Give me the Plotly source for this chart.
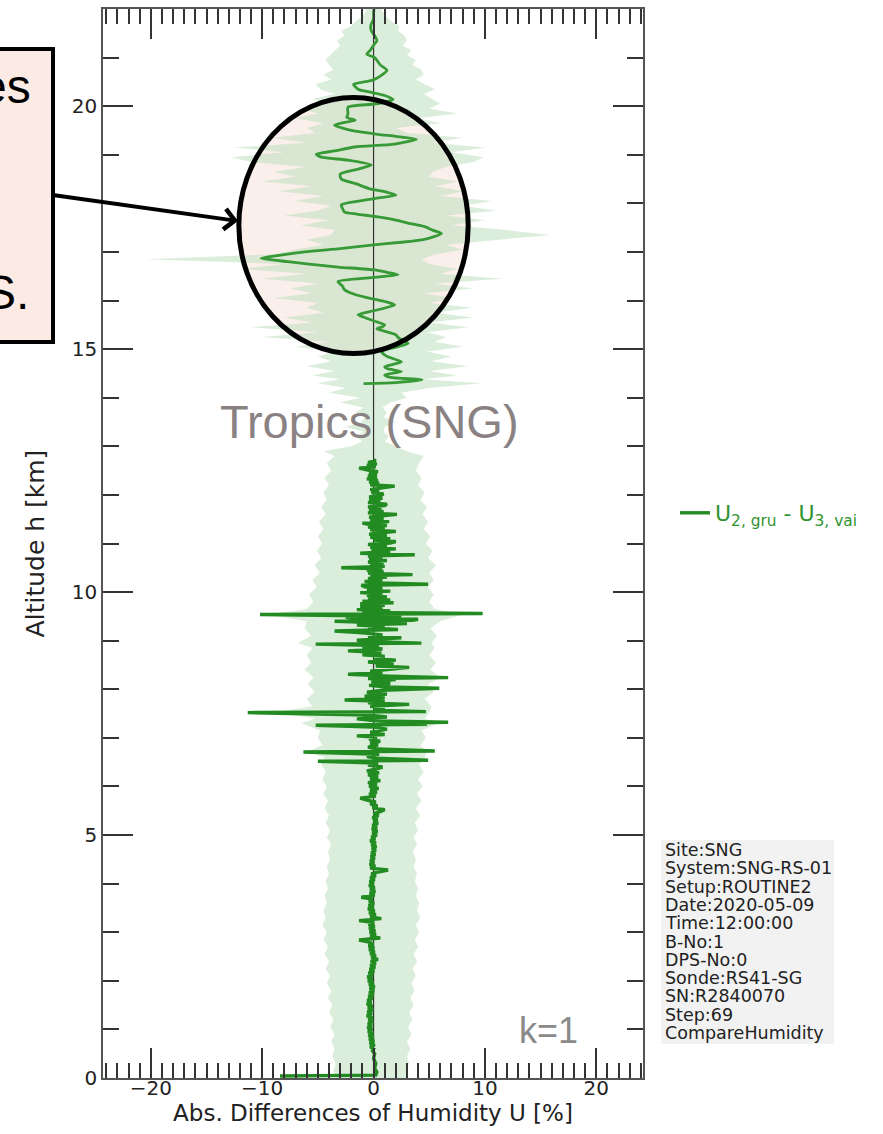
import plotly.graph_objects as go

# ---------------- data ----------------
# lower profile (surface .. 12.7 km): (altitude [km], difference [%])
low_profile = [
    (0.04, -8.4), (0.06, 0.2), (0.12, 0.3), (0.20, 0.1), (0.30, 0.2), (0.40, 0.0), (0.50, 0.1), (0.56, -0.1),
    (0.60, 0.0), (0.64, -0.3), (0.68, 0.1), (0.72, -0.35), (0.76, 0.05), (0.80, -0.4), (0.84, 0.0), (0.88, -0.45),
    (0.92, -0.05), (0.96, -0.5), (1.00, -0.1), (1.04, -0.55), (1.08, -0.15), (1.12, -0.5), (1.16, -0.05),
    (1.20, -0.45), (1.24, -0.1), (1.28, -0.6), (1.32, -0.15), (1.36, -0.55), (1.40, -0.05), (1.44, -0.5),
    (1.48, -0.1), (1.52, -0.6), (1.56, -0.2), (1.60, -0.55), (1.64, -0.1), (1.68, -0.45), (1.72, 0.0),
    (1.76, -0.4), (1.80, 0.05), (1.84, -0.35), (1.88, 0.1), (1.92, -0.4), (1.96, 0.0), (2.00, -0.5),
    (2.04, -0.1), (2.08, -0.55), (2.12, -0.05), (2.16, -0.45), (2.20, 0.05), (2.24, -0.35), (2.28, 0.15),
    (2.32, -0.3), (2.36, 0.2), (2.40, -0.25), (2.44, 0.4), (2.48, -0.2), (2.52, 0.2), (2.56, -0.3), (2.60, 0.1),
    (2.64, -0.4), (2.68, 0.05), (2.72, -0.45), (2.76, 0.0), (2.80, -0.5), (2.84, -1.3), (2.88, 0.6),
    (2.92, -0.3), (2.96, 0.2), (3.00, -0.35), (3.04, 0.15), (3.08, -0.4), (3.12, 0.1), (3.16, -0.45),
    (3.20, 0.05), (3.24, -1.3), (3.28, 0.7), (3.32, -0.3), (3.36, 0.2), (3.40, -0.4), (3.44, 0.1), (3.48, -0.5),
    (3.52, 0.0), (3.56, -0.45), (3.60, 0.05), (3.64, -0.4), (3.68, -0.1), (3.72, -1.1), (3.76, 0.1),
    (3.80, -0.35), (3.84, 0.15), (3.88, -0.3), (3.92, 0.1), (3.96, -0.4), (4.00, 0.0), (4.04, -0.35),
    (4.08, 0.1), (4.12, -0.3), (4.16, 0.2), (4.20, -0.2), (4.24, 0.4), (4.28, 1.3), (4.32, -0.3), (4.36, 0.15),
    (4.40, -0.35), (4.44, 0.05), (4.48, -0.3), (4.52, 0.1), (4.56, -0.25), (4.60, 0.15), (4.64, -0.2),
    (4.68, 0.2), (4.72, -0.15), (4.76, 0.25), (4.80, -0.2), (4.84, 0.2), (4.88, -0.3), (4.92, 0.15),
    (4.96, -0.2), (5.00, 0.3), (5.04, -0.1), (5.08, 0.35), (5.12, -0.15), (5.16, 0.3), (5.20, -0.1),
    (5.24, 0.4), (5.28, 0.0), (5.32, 0.35), (5.36, -0.1), (5.40, 0.45), (5.44, 0.0), (5.48, 0.6), (5.52, 1.0),
    (5.56, -0.1), (5.60, 0.35), (5.64, -0.3), (5.68, 0.2), (5.72, -0.6), (5.76, -1.2), (5.80, 0.2),
    (5.84, -0.4), (5.88, 0.3), (5.92, -0.3), (5.96, 0.45), (6.00, -0.4), (6.04, 0.3), (6.08, -0.5),
    (6.12, 0.6), (6.16, -0.3), (6.20, 0.4), (6.24, -0.5), (6.28, 0.5), (6.32, -0.6), (6.36, 0.3), (6.40, 0.8),
    (6.44, -0.5), (6.48, 0.4), (6.52, -5.0), (6.54, 4.9), (6.58, 0.2), (6.62, -0.6), (6.66, 0.5), (6.71, -6.3),
    (6.73, 5.5), (6.77, 0.3), (6.81, -0.5), (6.85, 0.4), (6.89, -0.3), (6.93, 0.6), (6.97, -0.4), (7.01, 0.3),
    (7.04, -1.5), (7.07, 1.0), (7.11, -0.3), (7.15, 0.5), (7.18, 1.2), (7.22, 0.0), (7.26, -5.2), (7.28, 4.8),
    (7.30, 0.5), (7.32, 6.7), (7.35, 0.2), (7.39, -1.5), (7.43, 1.2), (7.47, -0.6), (7.52, -11.3), (7.54, 4.7),
    (7.57, 0.0), (7.61, 1.0), (7.65, -0.3), (7.69, 3.2), (7.72, -0.5), (7.75, 1.0), (7.78, -2.6), (7.82, 1.0),
    (7.86, -0.8), (7.90, 1.2), (7.94, -0.6), (7.98, 0.8), (8.02, 5.9), (8.05, 1.0), (8.08, -0.4), (8.12, 1.5),
    (8.16, -0.2), (8.20, 2.0), (8.22, -0.5), (8.24, 6.7), (8.27, 1.5), (8.31, -2.3), (8.34, 0.8), (8.37, -0.3),
    (8.41, 1.5), (8.45, 3.2), (8.48, 0.2), (8.52, 1.8), (8.56, -0.5), (8.60, 2.0), (8.64, 0.0), (8.68, 1.0),
    (8.71, -1.0), (8.75, 0.7), (8.79, -2.3), (8.83, 0.8), (8.87, -1.0), (8.90, 0.5), (8.93, -5.2), (8.95, 4.3),
    (8.98, 0.0), (9.01, -1.5), (9.04, 1.0), (9.06, 2.5), (9.09, -0.5), (9.12, 0.8), (9.16, -1.0), (9.20, -3.5),
    (9.23, 2.2), (9.26, -0.5), (9.29, 1.0), (9.32, -1.5), (9.35, 3.0), (9.38, -2.0), (9.40, -3.5), (9.42, 3.5),
    (9.44, 4.0), (9.46, -1.5), (9.48, -2.5), (9.50, 2.5), (9.52, -3.0), (9.54, -10.2), (9.56, 9.8),
    (9.58, -1.0), (9.61, 1.5), (9.64, -1.5), (9.67, 0.8), (9.70, -1.2), (9.73, 1.0), (9.76, -1.2), (9.78, 1.8),
    (9.81, -1.0), (9.84, 1.5), (9.87, -0.5), (9.90, 1.2), (9.93, -0.6), (9.96, 0.8), (9.99, -1.2), (10.02, 1.5),
    (10.05, -0.6), (10.08, 0.8), (10.11, -0.8), (10.14, -1.1), (10.16, 4.9), (10.19, 0.3), (10.22, -0.8),
    (10.25, 0.8), (10.28, -0.5), (10.31, 1.2), (10.34, -0.3), (10.36, 3.5), (10.39, -0.5), (10.42, 0.9),
    (10.45, -0.6), (10.48, 0.8), (10.50, -2.9), (10.53, 1.0), (10.56, -0.3), (10.59, 0.9), (10.62, -0.5),
    (10.65, 1.2), (10.68, -0.4), (10.71, 0.8), (10.74, -0.5), (10.77, 3.7), (10.80, -1.2), (10.83, 1.5),
    (10.86, -0.2), (10.89, 2.0), (10.92, -0.3), (10.95, 1.2), (10.98, -0.5), (11.01, 1.5), (11.04, 2.0),
    (11.07, 0.0), (11.10, 1.5), (11.13, -0.3), (11.16, 1.2), (11.19, -0.4), (11.22, 1.0), (11.25, 2.0),
    (11.28, -0.3), (11.31, 1.0), (11.34, -0.5), (11.37, 1.2), (11.40, -0.6), (11.42, -1.0), (11.45, 1.4),
    (11.48, -0.3), (11.51, 0.9), (11.54, -0.4), (11.57, 0.8), (11.60, 2.1), (11.63, -0.5), (11.66, 0.9),
    (11.69, -0.4), (11.72, 0.7), (11.75, -0.5), (11.78, 1.0), (11.81, 1.2), (11.84, -0.5), (11.87, 0.6),
    (11.90, -0.4), (11.93, 0.8), (11.96, -0.4), (11.99, 0.6), (12.02, 0.9), (12.05, -0.2), (12.08, 0.5),
    (12.11, -0.3), (12.14, 0.7), (12.18, 1.9), (12.21, -0.3), (12.24, 0.5), (12.27, -0.4), (12.30, 0.4),
    (12.33, -0.6), (12.36, 0.3), (12.39, -0.5), (12.42, 0.3), (12.45, -0.4), (12.48, 0.4), (12.51, -0.5),
    (12.55, -1.3), (12.58, 0.2), (12.61, -0.6), (12.64, 0.3), (12.67, -0.5), (12.70, 0.2), (12.72, 0.0),
]

# upper profile (14.3 .. 22 km)
up_alt = [14.29, 14.31, 14.37, 14.42, 14.47, 14.54, 14.60, 14.64, 14.70, 14.74, 14.85, 14.95, 15.05, 15.12, 15.22,
          15.30, 15.38, 15.42, 15.46, 15.50, 15.56, 15.60, 15.66, 15.71, 15.80, 15.91, 15.98, 16.04, 16.12, 16.22,
          16.30, 16.39, 16.47, 16.53, 16.58, 16.63, 16.69, 16.75, 16.80, 16.87, 16.93, 17.00, 17.07, 17.14, 17.20,
          17.25, 17.32, 17.38, 17.45, 17.52, 17.60, 17.66, 17.72, 17.78, 17.82, 17.90, 17.97, 18.04, 18.10, 18.17,
          18.24, 18.30, 18.40, 18.50, 18.60, 18.70, 18.79, 18.89, 18.95, 19.01, 19.08, 19.16, 19.22, 19.32, 19.38,
          19.42, 19.50, 19.61, 19.67, 19.71, 19.77, 19.84, 19.98, 20.04, 20.08, 20.14, 20.22, 20.30, 20.35, 20.45,
          20.53, 20.62, 20.74, 20.85, 21.00, 21.07, 21.15, 21.27, 21.35, 21.45, 21.55, 21.66, 21.80, 21.93, 22.00]
up_diff = [-0.9, 1.95, 4.35, 1.5, 1.0, 2.5, 1.2, 1.0, 2.0, 2.5, 1.2, 0.7, 2.2, 3.1, 2.3,
           1.95, 0.8, 0.3, 0.8, 1.0, 0.3, -0.2, -0.9, -1.4, 0.2, 1.9, 1.0, -0.2, -1.6, -2.6,
           -2.8, -3.2, -0.2, 2.2, 1.2, 0.1, -3.2, -5.8, -7.7, -10.1, -8.5, -6.2, -3.0, -0.2, 2.5,
           4.35, 5.5, 6.1, 5.3, 4.6, 3.0, 1.9, 0.4, -1.5, -2.6, -2.8, -2.9, -1.5, 0.1, 2.0,
           1.0, -0.35, -1.55, -2.9, -3.0, -1.5, -0.2, -2.3, -4.7, -5.15, -3.5, -1.7, 1.9, 3.85, 2.0,
           0.4, -2.0, -3.5, -2.5, -1.65, -2.4, -2.3, -2.3, -0.15, 1.0, 1.75, 1.0, -0.5, -1.4, -1.8,
           -0.15, 0.6, 1.2, 0.6, 0.1, -0.6, -0.3, 0.05, 0.3, 0.1, -0.2, -0.25, 0.0, 0.0, 0.05]

# uncertainty band (k=1): (altitude, lower bound, upper bound) [%]
band_profile = [
    (0.00, -3.4, 3.0), (0.15, -3.6, 2.9), (0.30, -3.4, 3.2), (0.45, -3.7, 3.0), (0.60, -3.5, 3.3),
    (0.75, -3.8, 3.0), (0.90, -3.5, 3.4), (1.05, -3.9, 3.1), (1.20, -3.6, 3.5), (1.35, -4.0, 3.2),
    (1.50, -3.7, 3.6), (1.65, -4.1, 3.3), (1.80, -3.8, 3.7), (1.95, -4.2, 3.4), (2.10, -3.9, 3.8),
    (2.25, -4.3, 3.5), (2.40, -4.0, 3.9), (2.55, -4.4, 3.6), (2.70, -4.1, 4.0), (2.85, -4.5, 3.7),
    (3.00, -4.2, 4.1), (3.15, -4.6, 3.8), (3.30, -4.3, 4.2), (3.45, -4.5, 3.9), (3.60, -4.2, 4.1),
    (3.75, -4.4, 3.8), (3.90, -4.1, 4.0), (4.05, -4.3, 3.7), (4.20, -4.0, 3.9), (4.35, -4.2, 3.6),
    (4.50, -3.9, 3.8), (4.65, -4.1, 3.5), (4.80, -3.8, 3.9), (4.95, -4.2, 3.6), (5.10, -3.9, 4.0),
    (5.25, -4.3, 3.7), (5.40, -4.0, 4.2), (5.55, -4.4, 3.8), (5.70, -4.1, 4.3), (5.85, -4.5, 3.9),
    (6.00, -4.2, 4.4), (6.15, -4.6, 4.0), (6.30, -4.3, 4.5), (6.45, -4.7, 4.1), (6.60, -4.4, 4.6),
    (6.72, -6.0, 4.8), (6.85, -4.6, 4.2), (7.00, -5.0, 4.7), (7.15, -4.8, 4.3), (7.30, -6.5, 5.8),
    (7.40, -5.2, 4.6), (7.52, -9.0, 5.0), (7.65, -5.5, 5.2), (7.80, -6.0, 4.6), (7.95, -5.3, 5.4),
    (8.10, -5.9, 4.9), (8.25, -5.4, 6.0), (8.40, -6.2, 5.1), (8.55, -5.6, 5.6), (8.70, -6.0, 5.0),
    (8.85, -5.5, 5.5), (8.95, -6.8, 5.2), (9.10, -5.6, 5.7), (9.25, -6.2, 5.1), (9.40, -6.0, 6.0),
    (9.54, -9.5, 8.0), (9.65, -6.0, 5.5), (9.80, -5.4, 5.0), (9.95, -5.8, 5.4), (10.10, -5.1, 4.9),
    (10.25, -5.5, 5.4), (10.40, -4.8, 5.0), (10.55, -5.3, 5.6), (10.70, -4.7, 4.9), (10.85, -5.1, 5.3),
    (11.00, -4.6, 4.7), (11.15, -5.0, 5.1), (11.30, -4.5, 4.5), (11.45, -4.9, 4.9), (11.60, -4.3, 4.4),
    (11.75, -4.7, 4.8), (11.90, -4.2, 4.2), (12.05, -4.5, 4.6), (12.20, -4.0, 4.0), (12.35, -4.4, 4.3),
    (12.50, -3.8, 3.8), (12.65, -4.2, 4.1), (12.80, -3.5, 4.5), (12.90, -4.5, 3.0), (13.00, -2.0, 2.0),
    (13.10, -1.0, 1.0), (13.20, -1.6, 1.4), (13.30, -0.9, 0.9), (13.40, -2.5, 1.0), (13.50, -1.1, 2.0),
    (13.60, -0.8, 0.9), (13.70, -1.6, 1.2), (13.80, -0.9, 0.8), (13.90, -3.0, 1.5), (14.00, -1.2, 3.0),
    (14.10, -4.0, 2.5), (14.20, -2.5, 5.0), (14.30, -5.0, 9.7), (14.38, -3.0, 4.5), (14.46, -5.5, 7.5),
    (14.55, -3.5, 5.0), (14.65, -6.0, 8.5), (14.75, -3.8, 5.2), (14.85, -5.0, 7.0), (14.95, -3.5, 4.8),
    (15.05, -7.0, 8.0), (15.15, -4.0, 5.5), (15.25, -10.0, 6.5), (15.35, -5.0, 4.8), (15.45, -11.0, 8.5),
    (15.55, -5.5, 5.0), (15.65, -8.0, 9.0), (15.75, -4.5, 5.5), (15.85, -6.0, 8.9), (15.95, -5.0, 5.0),
    (16.05, -9.0, 7.0), (16.15, -5.5, 4.5), (16.25, -7.5, 9.0), (16.35, -5.0, 5.5), (16.45, -10.0, 11.6),
    (16.55, -6.0, 6.0), (16.65, -12.0, 7.5), (16.75, -8.0, 5.0), (16.85, -20.5, 4.3), (16.95, -9.0, 5.5),
    (17.05, -7.0, 8.0), (17.15, -4.5, 6.5), (17.25, -6.0, 11.0), (17.35, -3.8, 15.8), (17.45, -3.5, 12.0),
    (17.55, -6.5, 7.0), (17.65, -4.0, 10.0), (17.75, -8.0, 6.5), (17.85, -5.0, 11.0), (17.95, -3.8, 8.0),
    (18.05, -7.0, 10.6), (18.15, -4.5, 6.0), (18.25, -8.5, 8.0), (18.35, -5.5, 5.5), (18.45, -10.0, 7.5),
    (18.55, -7.0, 5.0), (18.65, -9.0, 5.3), (18.75, -6.0, 6.5), (18.85, -11.0, 9.0), (18.95, -12.8, 9.9),
    (19.05, -8.0, 7.0), (19.15, -12.5, 10.0), (19.25, -6.0, 5.0), (19.35, -9.0, 8.0), (19.45, -5.2, 3.0),
    (19.55, -6.0, 2.0), (19.65, -4.5, 6.0), (19.75, -7.0, 4.0), (19.85, -5.0, 7.5), (19.95, -6.5, 5.0),
    (20.05, -4.0, 6.0), (20.15, -5.5, 5.2), (20.25, -3.5, 4.5), (20.35, -4.8, 5.5), (20.45, -5.2, 4.6),
    (20.55, -3.8, 3.8), (20.65, -4.5, 4.5), (20.75, -3.6, 4.3), (20.85, -4.0, 3.5), (20.95, -4.3, 3.8),
    (21.05, -3.9, 3.0), (21.15, -3.4, 3.4), (21.25, -3.0, 2.6), (21.35, -3.3, 3.0), (21.45, -2.6, 2.8),
    (21.55, -2.9, 2.2), (21.65, -2.0, 2.3), (21.75, -1.6, 1.6), (21.85, -1.0, 1.1), (21.95, -0.7, 0.8),
    (22.00, -0.6, 0.7),
]

x_ticks = [-20, -10, 0, 10, 20]
y_ticks = [0, 5, 10, 15, 20]
x_range = [-24.3, 24.2]
y_range = [0, 22]
series_name = "U<sub>2, gru</sub> - U<sub>3, vai</sub>"
info_lines = ["Site:SNG", "System:SNG-RS-01", "Setup:ROUTINE2", "Date:2020-05-09", "Time:12:00:00",
              "B-No:1", "DPS-No:0", "Sonde:RS41-SG", "SN:R2840070", "Step:69", "CompareHumidity"]

low_alt = [a for a, _ in low_profile]
low_diff = [d for _, d in low_profile]
band_alt = [a for a, _, _ in band_profile]
band_lo = [lo for _, lo, _ in band_profile]
band_hi = [hi for _, _, hi in band_profile]

# ---------------- layout geometry (pixels) ----------------
W, H = 883, 1134
PL, PR, PT, PB = 103, 643, 9, 1078


def xp(px):
    return (px - PL) / (PR - PL)


def yp(py):
    return (PB - py) / (PB - PT)


GREEN = "#228b22"
GREEN_UP = "#379a37"

fig = go.Figure()

# band (closed polygon)
fig.add_trace(go.Scatter(
    x=band_lo + band_hi[::-1], y=band_alt + band_alt[::-1],
    fill="toself", fillcolor="rgba(190,222,190,0.55)", line=dict(width=0),
    mode="lines", showlegend=False, hoverinfo="skip"))

# zero reference line
fig.add_trace(go.Scatter(x=[0, 0], y=y_range, mode="lines",
                         line=dict(color="#333333", width=1.2), showlegend=False, hoverinfo="skip"))

fig.add_trace(go.Scatter(x=low_diff, y=low_alt, mode="lines", name=series_name,
                         line=dict(color=GREEN, width=3.4)))
fig.add_trace(go.Scatter(x=up_diff, y=up_alt, mode="lines", name=series_name, showlegend=False,
                         line=dict(color=GREEN_UP, width=2.8, shape="spline", smoothing=0.6)))

axis_common = dict(showline=True, linecolor="#555555", linewidth=1.5, mirror="allticks",
                   ticks="inside", tickcolor="#333333", tickwidth=1.5, showgrid=False, zeroline=False,
                   tickfont=dict(family="DejaVu Sans", size=20, color="#222222"))

fig.update_xaxes(range=x_range, tickvals=x_ticks, ticklen=30, ticklabelstandoff=-9,
                 minor=dict(dtick=1, ticklen=15, tickwidth=1.5, tickcolor="#333333", ticks="inside"),
                 title=dict(text="Abs. Differences of Humidity U [%]", standoff=0,
                            font=dict(family="DejaVu Sans", size=23, color="#222222")),
                 **axis_common)
fig.update_yaxes(range=y_range, tickvals=y_ticks, ticklen=30,
                 minor=dict(dtick=1, ticklen=16, tickwidth=1.5, tickcolor="#333333", ticks="inside"),
                 title=dict(text="Altitude h [km]", standoff=20,
                            font=dict(family="DejaVu Sans", size=25, color="#222222")),
                 **axis_common)

shapes = []
# info box background
shapes.append(dict(type="rect", xref="paper", yref="paper", x0=xp(661), x1=xp(834), y0=yp(1044), y1=yp(840),
                   fillcolor="#f2f2f2", line=dict(width=0), layer="below"))
# callout box (left, partially off-canvas)
shapes.append(dict(type="rect", xref="paper", yref="paper", x0=xp(-200), x1=xp(53), y0=yp(342), y1=yp(49),
                   fillcolor="#fbebe4", line=dict(color="black", width=4), layer="above"))
# ellipse highlighting the tropopause region: tinted fill below the data, outline above
ell = dict(type="circle", xref="x", yref="y", x0=-12.1, x1=8.5, y0=14.91, y1=20.18)
shapes.append(dict(**ell, fillcolor="#faefea", line=dict(width=0), layer="below"))
shapes.append(dict(**ell, fillcolor="rgba(0,0,0,0)", line=dict(color="black", width=5), layer="above"))

annotations = []
for i, t in enumerate(info_lines):
    annotations.append(dict(xref="paper", yref="paper", x=xp(663), y=yp(850 + i * 18.3), text=t,
                            showarrow=False, xanchor="left", yanchor="middle",
                            font=dict(family="DejaVu Sans", size=17.5, color="#222222")))
annotations.append(dict(xref="paper", yref="paper", x=xp(33), y=yp(86), text="es", showarrow=False,
                        xanchor="right", yanchor="middle",
                        font=dict(family="Liberation Sans", size=48, color="black")))
annotations.append(dict(xref="paper", yref="paper", x=xp(31), y=yp(292), text="S.", showarrow=False,
                        xanchor="right", yanchor="middle",
                        font=dict(family="Liberation Sans", size=48, color="black")))
annotations.append(dict(xref="paper", yref="paper", x=xp(238), y=yp(221), ax=53 - 238, ay=195 - 221,
                        axref="pixel", ayref="pixel", text="", showarrow=True, arrowhead=4,
                        arrowsize=1.0, arrowwidth=4, arrowcolor="black"))
annotations.append(dict(xref="paper", yref="paper", x=xp(369), y=yp(421), text="Tropics (SNG)",
                        showarrow=False, xanchor="center", yanchor="middle",
                        font=dict(family="Liberation Sans", size=47, color="#8a8282")))
annotations.append(dict(xref="paper", yref="paper", x=xp(548), y=yp(1030), text="k=1",
                        showarrow=False, xanchor="center", yanchor="middle",
                        font=dict(family="Liberation Sans", size=36, color="#8a8a8a")))

fig.update_layout(
    width=W, height=H, autosize=False,
    margin=dict(l=PL, r=W - PR, t=PT, b=H - PB, autoexpand=False),
    plot_bgcolor="white", paper_bgcolor="white",
    font=dict(family="DejaVu Sans", color="#222222"),
    shapes=shapes, annotations=annotations,
    hovermode=False,
    showlegend=True,
    legend=dict(x=xp(675), y=yp(513), xanchor="left", yanchor="middle", bgcolor="rgba(0,0,0,0)",
                font=dict(family="DejaVu Sans", size=22, color="#2f942f")),
)

fig.write_html("out.html", config={"displayModeBar": False})

# remove the browser's default page margin so the figure sits at the window origin
with open("out.html", encoding="utf-8") as f:
    html = f.read()
html = html.replace("<head>", "<head><style>html,body{margin:0;padding:0;}</style>", 1)
with open("out.html", "w", encoding="utf-8") as f:
    f.write(html)
